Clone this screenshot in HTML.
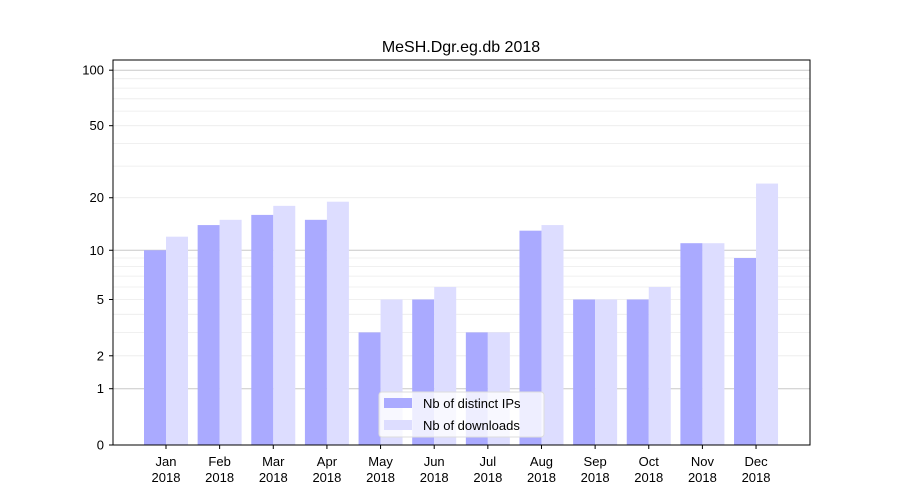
<!DOCTYPE html>
<html><head><meta charset="utf-8"><style>body{margin:0;background:#fff}svg{display:block;font-family:"Liberation Sans",sans-serif}</style></head>
<body>
<svg id="s" width="900" height="500" xmlns="http://www.w3.org/2000/svg"></svg>
<script>
const s=document.getElementById('s');let h='';
const Y=v=>445-187*Math.log10(v+1);
[2,3,4,5,6,7,8,9,20,30,40,50,60,70,80,90].forEach(v=>{const y=Y(v).toFixed(1);h+=`<line x1="113" x2="810" y1="${y}" y2="${y}" stroke="#ebebeb" stroke-width="0.8"/>`;});
[1,10,100].forEach(v=>{const y=Y(v).toFixed(1);h+=`<line x1="113" x2="810" y1="${y}" y2="${y}" stroke="#c8c8c8" stroke-width="1"/>`;});
const ips=[10,14,16,15,3,5,3,13,5,5,11,9],dl=[12,15,18,19,5,6,3,14,5,6,11,24];
const m=['Jan','Feb','Mar','Apr','May','Jun','Jul','Aug','Sep','Oct','Nov','Dec'];
for(let i=0;i<12;i++){const c=166+i*53.64;
h+=`<rect x="${c-22}" y="${Y(ips[i])}" width="22" height="${445-Y(ips[i])}" fill="#aaaaff"/>`;
h+=`<rect x="${c}" y="${Y(dl[i])}" width="22" height="${445-Y(dl[i])}" fill="#ddddff"/>`;
h+=`<line x1="${c}" x2="${c}" y1="445" y2="449" stroke="#000"/>`;
h+=`<text x="${c}" y="466" font-size="13" text-anchor="middle">${m[i]}</text><text x="${c}" y="482" font-size="13" text-anchor="middle">2018</text>`;}
[0,1,2,5,10,20,50,100].forEach(v=>{const y=Y(v);h+=`<line x1="109" x2="113" y1="${y}" y2="${y}" stroke="#000"/><text x="104" y="${y+4.5}" font-size="13" text-anchor="end">${v}</text>`;});
h+=`<rect x="113" y="60" width="697" height="385" fill="none" stroke="#000"/>`;
h+=`<text x="461" y="52" font-size="16" text-anchor="middle">MeSH.Dgr.eg.db 2018</text>`;
h+=`<rect x="379" y="392" width="165" height="45" rx="3" fill="#fff" fill-opacity="0.8" stroke="#ddd"/>`;
h+=`<rect x="384" y="398" width="28" height="10" fill="#aaaaff"/><text x="423" y="408" font-size="13">Nb of distinct IPs</text>`;
h+=`<rect x="384" y="420" width="28" height="10" fill="#ddddff"/><text x="423" y="430" font-size="13">Nb of downloads</text>`;
s.innerHTML=h;
</script>
</body></html>
